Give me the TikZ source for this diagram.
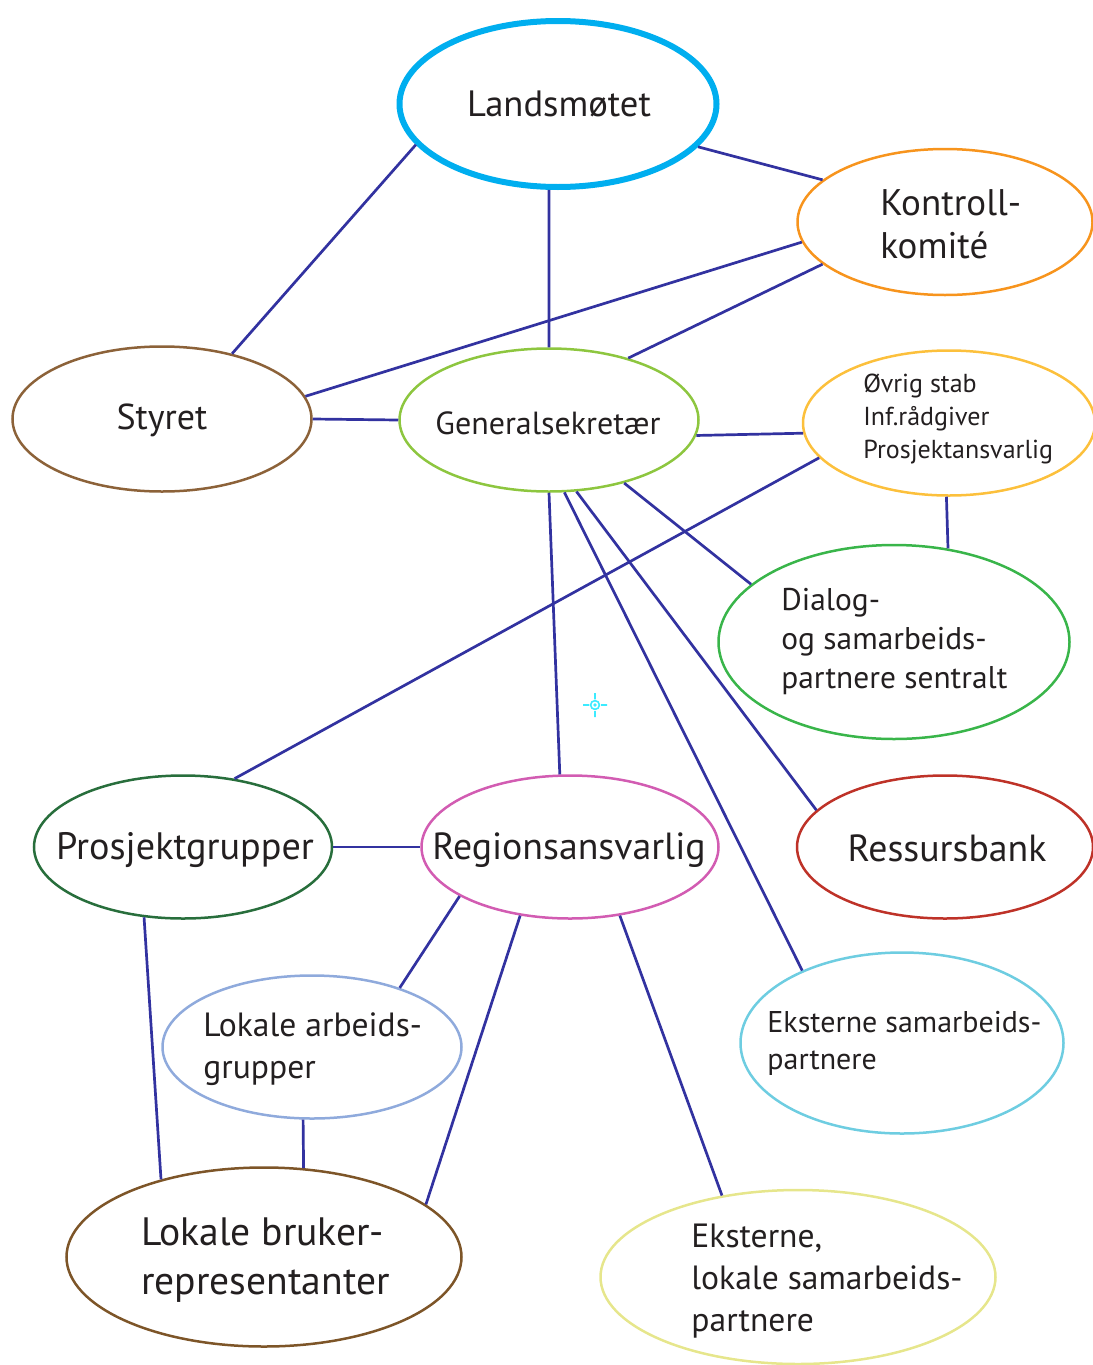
\documentclass[tikz,border=0pt]{standalone}
\usepackage{fontspec}
\setmainfont{PT Sans}
\usepackage{tikz}
\usetikzlibrary{shapes.geometric}
\usepackage{xcolor}

\definecolor{txtblack}{RGB}{35,31,32}
\definecolor{linkblue}{RGB}{50,50,160}
\definecolor{landsblue}{RGB}{0,174,239}
\definecolor{kontrollorange}{RGB}{247,148,29}
\definecolor{styretbrown}{RGB}{140,98,57}
\definecolor{gensekgreen}{RGB}{141,198,63}
\definecolor{stabgold}{RGB}{252,192,60}
\definecolor{dialoggreen}{RGB}{57,181,74}
\definecolor{prosjgreen}{RGB}{40,110,60}
\definecolor{regionpink}{RGB}{210,92,178}
\definecolor{ressursred}{RGB}{190,50,40}
\definecolor{lokarbblue}{RGB}{143,170,220}
\definecolor{ekstcyan}{RGB}{110,205,225}
\definecolor{lokbrbrown}{RGB}{125,85,40}
\definecolor{ekstlokyellow}{RGB}{230,230,140}
\definecolor{crosscyan}{RGB}{60,235,255}

\tikzset{
  bub/.style={draw, ellipse, line width=1.25pt, inner sep=0pt},
  sz/.style 2 args={minimum width=#1*0.5pt, minimum height=#2*0.5pt},
  txt/.style={inner sep=0pt, text=txtblack, align=left},
  fs/.style 2 args={font=\fontsize{#1}{#2}\selectfont},
  link/.style={draw=linkblue, line width=1.35pt},
  cross/.style={draw=crosscyan, line width=0.8pt},
}

\begin{document}
\begin{tikzpicture}[x=0.5pt, y=-0.5pt]
  \useasboundingbox (0,0) rectangle (1092,1365);

  % ellipses
  \node[bub, sz={317}{166}, draw=landsblue, line width=3pt] (lands) at (558,104) {};
  \node[bub, sz={295}{146}, draw=kontrollorange] (kontroll) at (945,222) {};
  \node[bub, sz={299}{145}, draw=styretbrown] (styret) at (162,419) {};
  \node[bub, sz={299}{143}, draw=gensekgreen] (gensek) at (549,420) {};
  \node[bub, sz={292}{145}, draw=stabgold] (stab) at (949,423) {};
  \node[bub, sz={351}{194}, draw=dialoggreen] (dialog) at (894,642) {};
  \node[bub, sz={298}{143}, draw=prosjgreen] (prosj) at (183,847) {};
  \node[bub, sz={297}{143}, draw=regionpink] (region) at (570,847) {};
  \node[bub, sz={296}{143}, draw=ressursred] (ressurs) at (945,847) {};
  \node[bub, sz={299}{143}, draw=lokarbblue] (lokarb) at (312,1047) {};
  \node[bub, sz={323}{181}, draw=ekstcyan] (ekst) at (902,1043) {};
  \node[bub, sz={395}{179}, draw=lokbrbrown] (lokbr) at (264,1257) {};
  \node[bub, sz={395}{174}, draw=ekstlokyellow] (ekstlok) at (798,1277) {};

  % texts
  \node[txt, fs={18.3}{23}] (lands-t) at (559,104) {Landsmøtet};
  \node[txt, fs={18.5}{21.5}, anchor=west] (kontroll-t) at (880,224) {Kontroll-\\komité};
  \node[txt, fs={18}{22}] (styret-t) at (162,420) {Styret};
  \node[txt, fs={16}{20}] (gensek-t) at (548,423) {Generalsekretær};
  \node[txt, fs={13}{16.5}, anchor=west] (stab-t) at (863,419) {Øvrig stab\\Inf.rådgiver\\Prosjektansvarlig};
  \node[txt, fs={15.7}{19.5}, anchor=west] (dialog-t) at (781,642) {Dialog-\\og samarbeids-\\partnere sentralt};
  \node[txt, fs={19.1}{22}] (prosj-t) at (185,850) {Prosjektgrupper};
  \node[txt, fs={18.9}{22}] (region-t) at (569,850) {Regionsansvarlig};
  \node[txt, fs={18.9}{22}] (ressurs-t) at (947,848) {Ressursbank};
  \node[txt, fs={16.8}{21}, anchor=west] (lokarb-t) at (203,1049) {Lokale arbeids-\\grupper};
  \node[txt, fs={15}{18.5}, anchor=west] (ekst-t) at (767,1043) {Eksterne samarbeids-\\partnere};
  \node[txt, fs={19.8}{24.5}, anchor=west] (lokbr-t) at (141,1260) {Lokale bruker-\\representanter};
  \node[txt, fs={16.8}{21}, anchor=west] (ekstlok-t) at (691,1281) {Eksterne,\\lokale samarbeids-\\partnere};

  % connectors
  \draw[link] (lands.196.7) -- (styret.43.3);
  \draw[link] (lands.264) -- (gensek.90);
  \draw[link] (lands.343.8) -- (kontroll.161.7);
  \draw[link] (kontroll.188) -- (styret.9.1);
  \draw[link] (kontroll.199.4) -- (gensek.38.9);
  \draw[link] (styret.east) -- (gensek.west);
  \draw[link] (gensek.354.6) -- (stab.184.3);
  \draw[link] (stab.195) -- (prosj.53.4);
  \draw[link] (stab.268.5) -- (dialog.60);
  \draw[link] (gensek.320.3) -- (dialog.158.2);
  \draw[link] (gensek.291.9) -- (ressurs.164.1);
  \draw[link] (gensek.282.2) -- (ekst.144.9);
  \draw[link] (gensek.270) -- (region.98.7);
  \draw[link] (prosj.east) -- (region.west);
  \draw[link] (prosj.241.3) -- (lokbr.143.2);
  \draw[link] (region.204) -- (lokarb.34.6);
  \draw[link] (region.234.6) -- (lokbr.18.5);
  \draw[link] (region.306.5) -- (ekstlok.133.6);
  \draw[link] (lokarb.263) -- (lokbr.66.6);

  % small target mark
  \draw[cross] (595,705) circle[radius=2.2pt]
    (595,693) -- (595,699) (595,711) -- (595,717)
    (583,705) -- (589,705) (601,705) -- (607,705);
  \fill[crosscyan] (595,705) circle[radius=0.9pt];
\end{tikzpicture}
\end{document}
